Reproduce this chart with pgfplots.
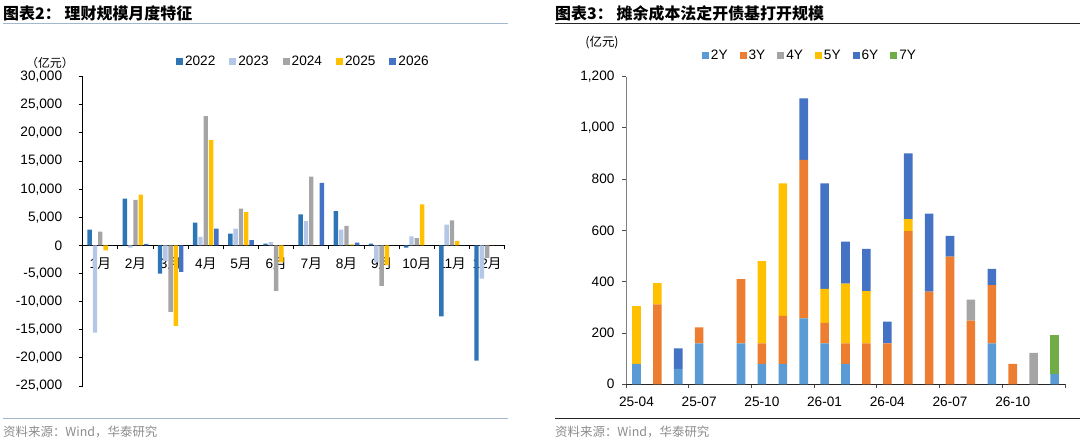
\documentclass[border=0pt]{standalone}
\usepackage{fontspec}
\setmainfont{Liberation Sans}
\newfontfamily\cjk{Noto Sans CJK SC}
\usepackage{pgfplots}
\pgfplotsset{compat=1.18}
\definecolor{c22}{HTML}{2E75B6}
\definecolor{c23}{HTML}{B4C7E7}
\definecolor{c24}{HTML}{A5A5A5}
\definecolor{c25}{HTML}{FFC000}
\definecolor{c26}{HTML}{4472C4}
\definecolor{y2}{HTML}{5B9BD5}
\definecolor{y3}{HTML}{ED7D31}
\definecolor{y4}{HTML}{A5A5A5}
\definecolor{y5}{HTML}{FFC000}
\definecolor{y6}{HTML}{4472C4}
\definecolor{y7}{HTML}{70AD47}
\definecolor{lineblue}{HTML}{A3B8CC}
\definecolor{srcgray}{HTML}{8C8C8C}
\newcommand\fs[1]{\fontsize{#1}{#1}\selectfont}
\newcommand\zh[1]{{\cjk #1}}
\pgfplotsset{
  sqlegend/.style={legend image code/.code={\draw[##1,draw=none] (0bp,-3.5bp) rectangle (7bp,3.5bp);}},
}
\begin{document}
\begin{tikzpicture}[x=1bp,y=1bp]
\useasboundingbox (0,0) rectangle (1080,447);
% ---------- frame texts ----------
\node[anchor=west,inner sep=0] at (3,434) {\cjk\bfseries\fs{16}图表2：\hspace{4bp}理财规模月度特征};
\node[anchor=west,inner sep=0] at (555,434) {\cjk\bfseries\fs{16}图表3：\hspace{4bp}摊余成本法定开债基打开规模};
\draw[lineblue,line width=1bp] (3,423.5) -- (508,423.5);
\draw[black!85,line width=1bp] (555,423.5) -- (1080,423.5);
\draw[lineblue,line width=1bp] (3,28) -- (508,28);
\draw[black!85,line width=1bp] (555,28) -- (1080,28);
\node[anchor=west,inner sep=0,text=srcgray] at (3,15) {\cjk\fs{12.5}资料来源：Wind，华泰研究};
\node[anchor=west,inner sep=0,text=srcgray] at (555,15) {\cjk\fs{12.5}资料来源：Wind，华泰研究};
\node[inner sep=0] at (50,384) {\cjk\fs{12}（亿元）};
\node[inner sep=0] at (602,404) {\cjk\fs{12.5}(亿元)};
% ---------- left chart ----------
\begin{axis}[
  at={(82.7bp,61bp)}, anchor=south west, scale only axis,
  width=422bp, height=309.3bp,
  xmin=0.5, xmax=12.5, ymin=-25000, ymax=30000,
  axis x line*=middle, axis y line*=left,
  axis line style={black, line width=0.9bp},
  ybar=0.9bp, bar width=4.4bp,
  ytick={-25000,-20000,...,30000},
  scaled y ticks=false,
  /pgf/number format/fixed,
  /pgf/number format/1000 sep={,},
  /pgf/number format/assume math mode=true,
  ticklabel style={font=\fs{13.7}},
  yticklabel style={xshift=-13bp},
  xticklabel style={yshift=-5bp},
  xtick={1,...,12},
  xticklabels={1\zh{月},2\zh{月},3\zh{月},4\zh{月},5\zh{月},6\zh{月},7\zh{月},8\zh{月},9\zh{月},10\zh{月},11\zh{月},12\zh{月}},
  minor xtick={0.5,1.5,...,12.5},
  major x tick style={draw=none},
  tick align=outside, major tick length=4bp, minor tick length=4bp,
  tick style={black, line width=0.9bp},
  sqlegend,
  legend style={at={(0.523,1.048)}, anchor=center, draw=none, fill=none,
    legend columns=5, font=\fs{13.7},
    /tikz/every even column/.append style={column sep=12bp}},
]
\addplot[fill=c22,draw=none] coordinates {(1,2800) (2,8300) (3,-5000) (4,4050) (5,2100) (6,300) (7,5500) (8,6100) (9,300) (10,-400) (11,-12600) (12,-20500)};
\addplot[fill=c23,draw=none] coordinates {(1,-15500) (2,-400) (3,-2800) (4,1500) (5,3000) (6,600) (7,4300) (8,2800) (9,-3000) (10,1600) (11,3700) (12,-5900)};
\addplot[fill=c24,draw=none] coordinates {(1,2450) (2,8100) (3,-11800) (4,23000) (5,6550) (6,-8100) (7,12250) (8,3450) (9,-7200) (10,1300) (11,4450) (12,-2200)};
\addplot[fill=c25,draw=none] coordinates {(1,-900) (2,9050) (3,-14300) (4,18700) (5,5900) (6,-3000) (7,0) (8,200) (9,-3500) (10,7300) (11,800) (12,0)};
\addplot[fill=c26,draw=none] coordinates {(1,0) (2,250) (3,-4700) (4,3000) (5,950) (6,0) (7,11100) (8,500) (9,0) (10,0) (11,0) (12,0)};
\legend{2022,2023,2024,2025,2026}
\end{axis}
% ---------- right chart ----------
\begin{axis}[
  at={(626bp,62.7bp)}, anchor=south west, scale only axis,
  width=439bp, height=307.7bp,
  xmin=-0.5, xmax=20.5, ymin=0, ymax=1200,
  axis x line*=bottom, axis y line*=left,
  x axis line style={black!85, line width=0.9bp},
  y axis line style={black!50, line width=0.9bp},
  ybar stacked, bar width=8.6bp,
  ytick={0,200,...,1200},
  scaled y ticks=false,
  /pgf/number format/fixed,
  /pgf/number format/1000 sep={,},
  /pgf/number format/assume math mode=true,
  ticklabel style={font=\fs{13.7}},
  yticklabel style={xshift=-4bp},
  xticklabel style={yshift=-5bp},
  xtick={0,3,6,9,12,15,18},
  xticklabels={25-04,25-07,25-10,26-01,26-04,26-07,26-10},
  minor xtick={-0.5,2.5,5.5,8.5,11.5,14.5,17.5,20.5},
  major x tick style={draw=none},
  tick align=outside, major tick length=4bp, minor tick length=4bp,
  tick style={black!70, line width=0.9bp},
  sqlegend,
  legend style={at={(0.419,1.067)}, anchor=center, draw=none, fill=none,
    legend columns=6, font=\fs{13.7},
    /tikz/every even column/.append style={column sep=10bp}},
]
\addplot[fill=y2,draw=none] coordinates {(0,80) (1,0) (2,60) (3,160) (4,0) (5,160) (6,80) (7,80) (8,257) (9,160) (10,80) (11,0) (12,0) (13,0) (14,0) (15,0) (16,0) (17,160) (18,0) (19,0) (20,40)};
\addplot[fill=y3,draw=none] coordinates {(0,0) (1,312) (2,0) (3,62) (4,0) (5,250) (6,80) (7,187) (8,618) (9,80) (10,80) (11,160) (12,160) (13,597) (14,361) (15,498) (16,248) (17,227) (18,80) (19,0) (20,0)};
\addplot[fill=y4,draw=none] coordinates {(0,0) (1,0) (2,0) (3,0) (4,0) (5,0) (6,0) (7,0) (8,0) (9,0) (10,0) (11,0) (12,0) (13,0) (14,0) (15,0) (16,82) (17,0) (18,0) (19,123) (20,0)};
\addplot[fill=y5,draw=none] coordinates {(0,225) (1,83) (2,0) (3,0) (4,0) (5,0) (6,320) (7,517) (8,0) (9,132) (10,233) (11,203) (12,0) (13,47) (14,0) (15,0) (16,0) (17,0) (18,0) (19,0) (20,0)};
\addplot[fill=y6,draw=none] coordinates {(0,0) (1,0) (2,80) (3,0) (4,0) (5,0) (6,0) (7,0) (8,240) (9,412) (10,163) (11,165) (12,84) (13,257) (14,305) (15,81) (16,0) (17,63) (18,0) (19,0) (20,0)};
\addplot[fill=y7,draw=none] coordinates {(0,0) (1,0) (2,0) (3,0) (4,0) (5,0) (6,0) (7,0) (8,0) (9,0) (10,0) (11,0) (12,0) (13,0) (14,0) (15,0) (16,0) (17,0) (18,0) (19,0) (20,153)};
\legend{2Y,3Y,4Y,5Y,6Y,7Y}
\end{axis}
\end{tikzpicture}
\end{document}
